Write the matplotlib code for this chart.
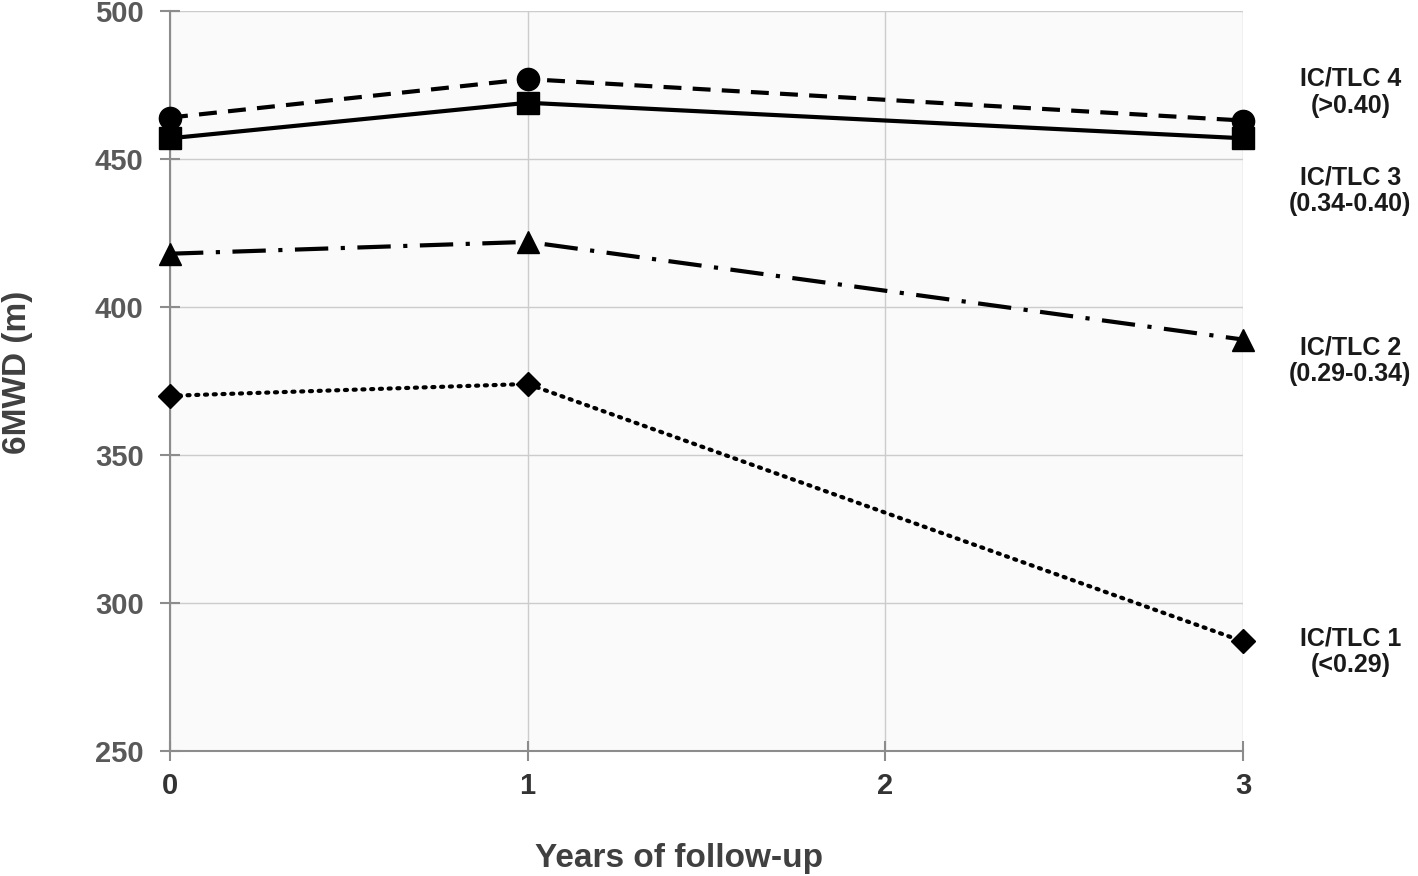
import matplotlib.pyplot as plt

plt.rcParams['font.family'] = ['Liberation Sans', 'DejaVu Sans']

#====================DATA====================

years = [0, 1, 3]
ictlc4 = [464, 477, 463]
ictlc3 = [457, 469, 457]
ictlc2 = [418, 422, 389]
ictlc1 = [370, 374, 287]

series_labels = ['IC/TLC 4\n(>0.40)', 'IC/TLC 3\n(0.34-0.40)', 'IC/TLC 2\n(0.29-0.34)', 'IC/TLC 1\n(<0.29)']
label_y = [472.6, 439.2, 381.8, 283.6]

yticks = [250, 300, 350, 400, 450, 500]
xticks = [0, 1, 2, 3]

#====================PLOT====================

fig = plt.figure(figsize=(14.18, 8.76), dpi=100)
ax = fig.add_axes([170 / 1418, 125 / 876, 1073 / 1418, 740 / 876])
ax.set_facecolor('#fafafa')

lw = 3
ax.plot(years, ictlc4, color='black', lw=lw, ls=(0, (4.3, 2.7)), marker='o', ms=16, zorder=3, clip_on=False)
ax.plot(years, ictlc3, color='black', lw=lw, ls='-', marker='s', ms=16, zorder=3, clip_on=False)
ax.plot(years, ictlc2, color='black', lw=lw, ls=(0, (8, 3, 1, 3)), marker='^', ms=16, zorder=3, clip_on=False)
ax.plot(years, ictlc1, color='black', lw=lw, ls=(0, (0.5, 1.6)), dash_capstyle='round', marker='D', ms=12, zorder=3, clip_on=False)

for lab, yv in zip(series_labels, label_y):
    ax.text(3.3, yv, lab, ha='center', va='center', fontsize=18, fontweight='bold',
            color='#1a1a1a', linespacing=1.15, clip_on=False)

ax.set_xlim(0, 3)
ax.set_ylim(250, 500)
ax.set_xticks(xticks)
ax.set_yticks(yticks)
ax.grid(True, color='#cccccc', lw=1)
ax.set_axisbelow(True)

for s in ['top', 'right']:
    ax.spines[s].set_visible(False)
for s in ['left', 'bottom']:
    ax.spines[s].set_color('#8c8c8c')
    ax.spines[s].set_linewidth(1.5)

ax.tick_params(axis='both', direction='inout', length=14, width=1.5, color='#8c8c8c')
ax.tick_params(axis='y', labelsize=21, labelcolor='#595959', pad=12)
ax.tick_params(axis='x', labelsize=21, labelcolor='#333333', pad=8)
for t in ax.get_xticklabels() + ax.get_yticklabels():
    t.set_fontweight('bold')

ax.set_ylabel('6MWD (m)', fontsize=24, fontweight='bold', color='#404040')
ax.set_xlabel('Years of follow-up', fontsize=24, fontweight='bold', color='#404040')
ax.yaxis.set_label_coords(-0.128, 0.512)
ax.xaxis.set_label_coords(0.474, -0.124)

plt.savefig('out.png', dpi=100)
